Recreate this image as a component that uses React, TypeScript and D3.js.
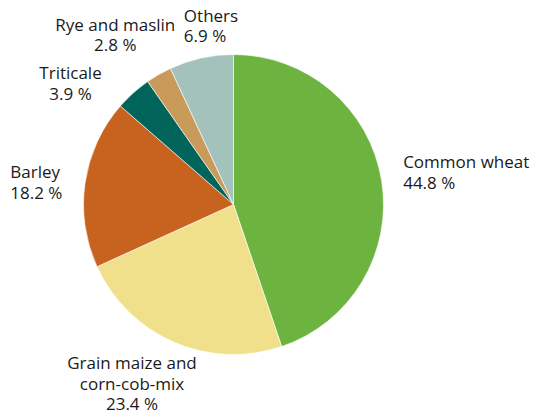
import React from "react";
import * as d3 from "d3";

const categories = [
  "Common wheat",
  "Grain maize and corn-cob-mix",
  "Barley",
  "Triticale",
  "Rye and maslin",
  "Others",
];
const shares = [44.8, 23.4, 18.2, 3.9, 2.8, 6.9];
const labelLines = [
  ["Common wheat"],
  ["Grain maize and", "corn-cob-mix"],
  ["Barley"],
  ["Triticale"],
  ["Rye and maslin"],
  ["Others"],
];
const colors = ["#6cb43f", "#f0e08c", "#c8621f", "#00645a", "#c89b5a", "#a4c2bc"];

// label layout: anchor and offset from the arc centroid at labelRadius
const labelAnchors = ["start", "middle", "start", "middle", "middle", "start"];
const labelOffsets: [number, number][] = [
  [-3, -8],
  [-32, 4],
  [-50, -1],
  [-46, 5],
  [-31, -22],
  [-12, -12],
];

const W = 533;
const H = 414;
const cx = 233.5;
const cy = 204.5;
const R = 150;
const labelRadius = 175;
const lineH = 20.5;

export default function App() {
  const data = categories.map((c, i) => ({ c, v: shares[i], i }));
  const pie = d3.pie<any>().value((d) => d.v).sort(null);
  const arcs = pie(data);
  const arc = d3.arc<any>().innerRadius(0).outerRadius(R);
  const labelArc = d3.arc<any>().innerRadius(labelRadius).outerRadius(labelRadius);
  const fmt = d3.format(".1f");

  return (
    <svg
      width={W}
      height={H}
      style={{ position: "absolute", left: 0, top: 0, background: "#fff" }}
      fontFamily="'Open Sans', sans-serif"
      fontSize={17}
    >
      <g transform={`translate(${cx},${cy})`}>
        {arcs.map((a, i) => (
          <path key={i} d={arc(a) as string} fill={colors[i]} stroke="#fff" strokeWidth={0.6} />
        ))}
      </g>
      {arcs.map((a, i) => {
        const [lx, ly] = labelArc.centroid(a);
        const x = cx + lx + labelOffsets[i][0];
        const y = cy + ly + labelOffsets[i][1];
        const lines = [...labelLines[i], `${fmt(shares[i])} %`];
        return (
          <text key={i} x={x} y={y} textAnchor={labelAnchors[i] as any} fill="#1a1a1a">
            {lines.map((t, j) => (
              <tspan key={j} x={x} y={y + j * lineH}>
                {t}
              </tspan>
            ))}
          </text>
        );
      })}
    </svg>
  );
}
